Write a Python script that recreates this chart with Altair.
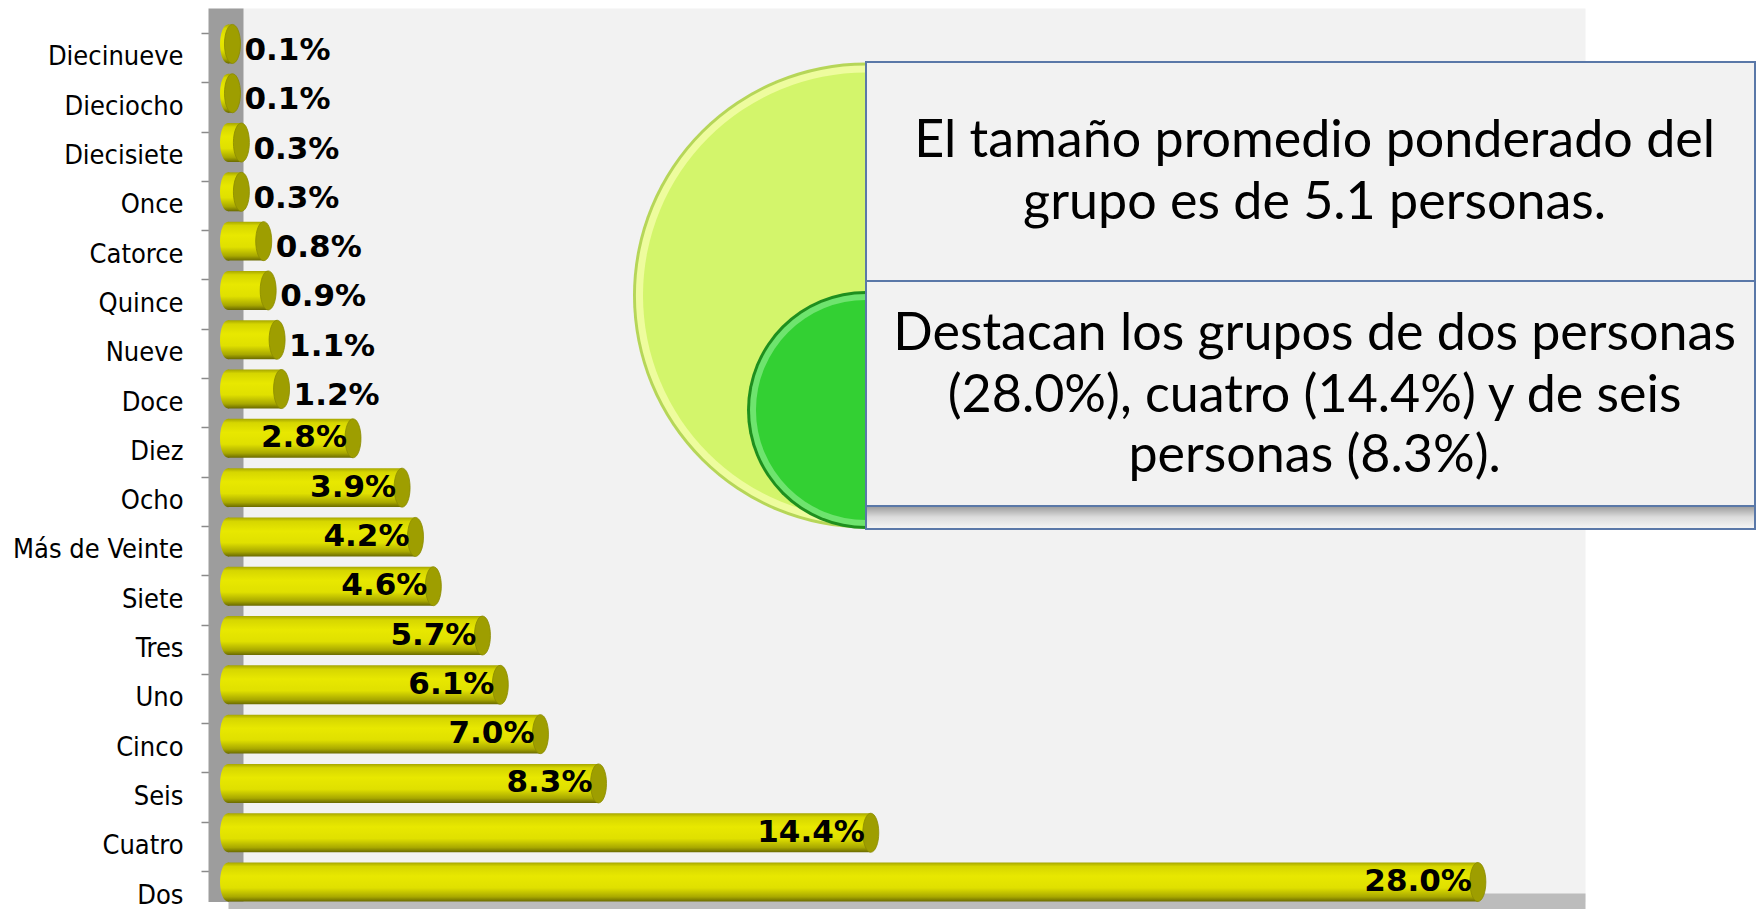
import math
import altair as alt
import pandas as pd

categories = ["Diecinueve", "Dieciocho", "Diecisiete", "Once", "Catorce", "Quince",
              "Nueve", "Doce", "Diez", "Ocho", "Más de Veinte", "Siete", "Tres",
              "Uno", "Cinco", "Seis", "Cuatro", "Dos"]
values = [0.1, 0.1, 0.3, 0.3, 0.8, 0.9, 1.1, 1.2, 2.8, 3.9, 4.2, 4.6, 5.7, 6.1,
          7.0, 8.3, 14.4, 28.0]

note_top = ["El tamaño promedio ponderado del", "grupo es de 5.1 personas."]
note_bottom = ["Destacan los grupos de dos personas",
               "(28.0%), cuatro  (14.4%) y de seis",
               "personas (8.3%)."]

df = pd.DataFrame({"cat": categories, "pct": values})
one = pd.DataFrame({"k": [0]})

W = 1357
H = 893.5
ELL = "M0,-1A0.41,1,0,1,1,0,1A0.41,1,0,1,1,0,-1Z"
CAP = 1521

bar_grad = alt.Gradient(
    gradient="linear", x1=0, x2=0, y1=0, y2=1,
    stops=[alt.GradientStop(offset=0, color="#a6a600"),
           alt.GradientStop(offset=0.1, color="#d6d600"),
           alt.GradientStop(offset=0.35, color="#e8e800"),
           alt.GradientStop(offset=0.65, color="#e0e000"),
           alt.GradientStop(offset=0.88, color="#a8a800"),
           alt.GradientStop(offset=1, color="#6a6a00")])

y_enc = alt.Y("cat:N", sort=categories, title=None,
              scale=alt.Scale(paddingInner=0.21, paddingOuter=0.167, align=1),
              axis=alt.Axis(domainColor="#9d9d9d", domainWidth=35, offset=2.5,
                            tickColor="#8a8a8a", tickWidth=1.5, tickSize=24.5,
                            tickOffset=-11, labelOffset=24, labelPadding=18,
                            labelFont="DejaVu Sans Condensed", labelFontSize=27,
                            labelColor="black", labelLimit=400, grid=False))
x_enc = alt.X("pct:Q", title=None, scale=alt.Scale(domain=[0, 30.4], nice=False, zero=True),
              axis=alt.Axis(labels=False, ticks=False, grid=False,
                            domainColor="#bcbcbc", domainWidth=16, offset=-0.5))

base = alt.Chart(df)

bars = base.mark_bar(fill=bar_grad).encode(x=x_enc, y=y_enc)
left_cap = base.transform_calculate(z="0").mark_point(
    shape=ELL, size=CAP, filled=True, fill=bar_grad, opacity=1, strokeWidth=0
).encode(x=alt.X("z:Q"), y=alt.Y("cat:N", sort=categories))
right_cap = base.mark_point(
    shape=ELL, size=CAP, filled=True, fill="#9e9e00", opacity=1,
    stroke="#8a8a00", strokeWidth=0.8
).encode(x=alt.X("pct:Q"), y=alt.Y("cat:N", sort=categories))

lbl_small = base.transform_filter("datum.pct < 2.5").transform_calculate(
    lbl="format(datum.pct, '.1f') + '%'"
).mark_text(align="left", baseline="middle", dx=12, dy=7, font="DejaVu Sans",
            fontWeight="bold", fontSize=31, color="black").encode(
    x=alt.X("pct:Q"), y=alt.Y("cat:N", sort=categories), text="lbl:N")
lbl_large = base.transform_filter("datum.pct >= 2.5").transform_calculate(
    lbl="format(datum.pct, '.1f') + '%'"
).mark_text(align="right", baseline="middle", dx=-6, dy=0, font="DejaVu Sans",
            fontWeight="bold", fontSize=31, color="black").encode(
    x=alt.X("pct:Q"), y=alt.Y("cat:N", sort=categories), text="lbl:N")

ann = alt.Chart(one)


def arc(r, color, cy):
    return ann.mark_arc(radius=r, theta=math.pi, theta2=2 * math.pi, fill=color).encode(
        x=alt.value(638), y=alt.value(cy))


big = [arc(233, "#b6d658", 287.5), arc(230, "#eefc9e", 287.5), arc(223, "#d3f56b", 287.5)]
small = [arc(119, "#1e8f1e", 402), arc(116, "#6ee46e", 402), arc(110, "#33d033", 402)]

box_top = ann.mark_rect(fill="#f2f2f2", stroke="#5a78a8", strokeWidth=2).encode(
    x=alt.value(638), x2=alt.value(1527), y=alt.value(54), y2=alt.value(273))
box_bot = ann.mark_rect(fill="#f2f2f2", stroke="#5a78a8", strokeWidth=2).encode(
    x=alt.value(638), x2=alt.value(1527), y=alt.value(273), y2=alt.value(521))
shadow_grad = alt.Gradient(
    gradient="linear", x1=0, x2=0, y1=0, y2=1,
    stops=[alt.GradientStop(offset=0, color="#a0a0a0"),
           alt.GradientStop(offset=0.5, color="#dcdcdc"),
           alt.GradientStop(offset=1, color="#f2f2f2")])
shadow = ann.mark_rect(fill=shadow_grad).encode(
    x=alt.value(639), x2=alt.value(1526), y=alt.value(499), y2=alt.value(519))
inner_line = ann.mark_rule(color="#5a78a8", strokeWidth=2).encode(
    x=alt.value(638), x2=alt.value(1527), y=alt.value(498))

texts = []
for line, yy in zip(note_top, [132.6, 194.5]):
    texts.append(ann.mark_text(text=line, font="Lato", fontSize=52, align="center",
                               baseline="middle", color="black").encode(
        x=alt.value(1086.6), y=alt.value(yy)))
for line, yy in zip(note_bottom, [326, 388, 447.6]):
    texts.append(ann.mark_text(text=line, font="Lato", fontSize=52, align="center",
                               baseline="middle", color="black").encode(
        x=alt.value(1086.6), y=alt.value(yy)))

chart = alt.layer(
    bars, left_cap, right_cap, lbl_small, lbl_large,
    *big, *small, box_top, box_bot, shadow, inner_line, *texts
).properties(
    width=W, height=H,
    padding={"left": 220, "top": 0, "right": 171, "bottom": 7.5},
    autosize=alt.AutoSizeParams(type="none"),
    background="white",
).configure_view(fill="#f2f2f2", stroke="transparent")

chart.save("out.html", embed_options={"renderer": "svg", "actions": False})
